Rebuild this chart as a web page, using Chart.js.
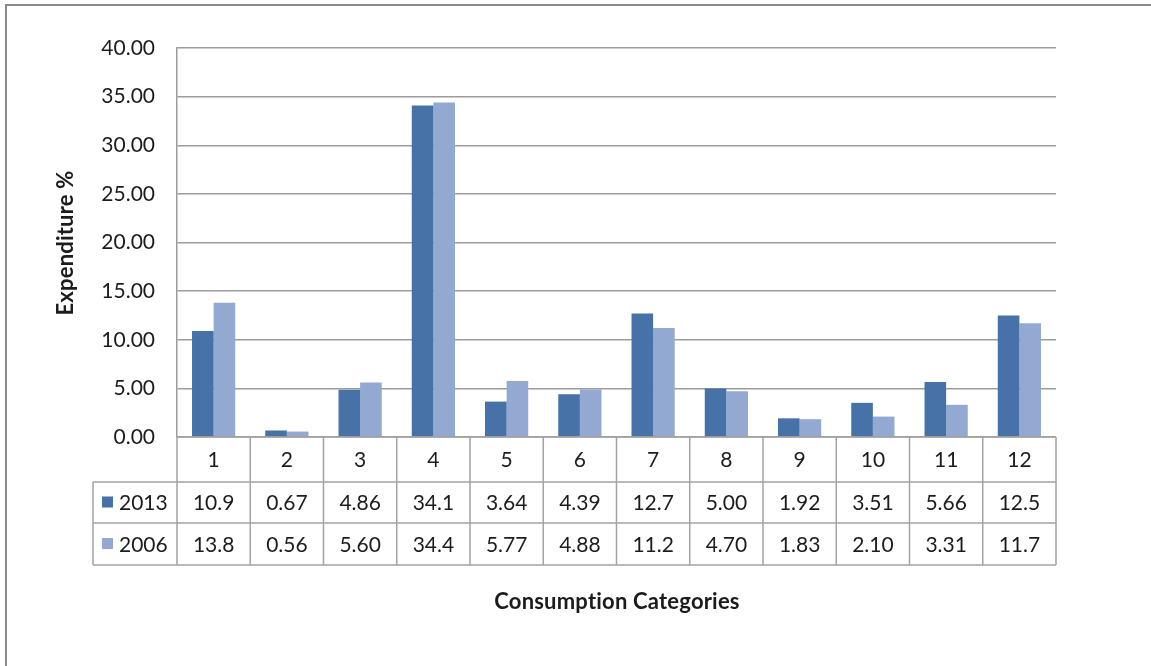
<!DOCTYPE html>
<html>
<head>
<meta charset="utf-8">
<script src="https://cdn.jsdelivr.net/npm/chart.js@4/dist/chart.umd.min.js"></script>
<style>
  html, body { margin: 0; padding: 0; background: #ffffff; }
  #wrap { width: 1151px; height: 666px; }
</style>
</head>
<body>
<div id="wrap"><canvas id="c" width="1151" height="666"></canvas></div>
<script>
// Consumption categories 1..12 and expenditure shares (%) for two survey years
const categories = ['1', '2', '3', '4', '5', '6', '7', '8', '9', '10', '11', '12'];
const series2013 = [10.9, 0.67, 4.86, 34.1, 3.64, 4.39, 12.7, 5.00, 1.92, 3.51, 5.66, 12.5];
const series2006 = [13.8, 0.56, 5.60, 34.4, 5.77, 4.88, 11.2, 4.70, 1.83, 2.10, 3.31, 11.7];
const seriesNames = ['2013', '2006'];
const yTicks = [0, 5, 10, 15, 20, 25, 30, 35, 40];

const COLOR_2013 = '#4672a8';
const COLOR_2006 = '#93a9d1';
const GRID = '#9c9c9c';
const TEXT = '#1c1c1c';
const FONT = 'Lato, "Open Sans", sans-serif';

function fmt(v) {
  return v >= 10 ? v.toFixed(1) : v.toFixed(2);
}

// Frame, data table under the plot, and both axis titles
const dataTablePlugin = {
  id: 'dataTable',
  afterDraw(chart) {
    const ctx = chart.ctx;
    const area = chart.chartArea;
    const xs = chart.scales.x;
    const n = categories.length;

    // column edges taken from the category scale
    const edges = [area.left];
    for (let i = 1; i < n; i++) {
      edges.push((xs.getPixelForValue(i - 1) + xs.getPixelForValue(i)) / 2);
    }
    edges.push(area.right);

    const rowTop = area.bottom;
    const rows = [rowTop, rowTop + 45, rowTop + 86, rowTop + 128];
    const legendLeft = 93;

    ctx.save();
    // outer chart frame (top and left edges visible)
    ctx.strokeStyle = '#8a8a8a';
    ctx.lineWidth = 2;
    ctx.beginPath();
    ctx.moveTo(6, 666);
    ctx.lineTo(6, 5);
    ctx.lineTo(1151, 5);
    ctx.stroke();

    ctx.strokeStyle = '#a3a3a3';
    ctx.lineWidth = 1.5;
    ctx.beginPath();
    // horizontal rules
    ctx.moveTo(edges[0], rows[0]); ctx.lineTo(edges[n], rows[0]);
    for (let r = 1; r < rows.length; r++) {
      ctx.moveTo(legendLeft, rows[r]); ctx.lineTo(edges[n], rows[r]);
    }
    // vertical rules
    for (let i = 0; i <= n; i++) {
      ctx.moveTo(edges[i], rows[0]); ctx.lineTo(edges[i], rows[3]);
    }
    ctx.moveTo(legendLeft, rows[1]); ctx.lineTo(legendLeft, rows[3]);
    ctx.stroke();

    ctx.fillStyle = TEXT;
    ctx.font = '21px ' + FONT;
    ctx.textAlign = 'center';
    ctx.textBaseline = 'middle';
    const data = [series2013, series2006];
    for (let i = 0; i < n; i++) {
      const cx = (edges[i] + edges[i + 1]) / 2;
      ctx.fillText(categories[i], cx, (rows[0] + rows[1]) / 2 + 1);
      for (let s = 0; s < 2; s++) {
        ctx.fillText(fmt(data[s][i]), cx, (rows[s + 1] + rows[s + 2]) / 2 + 1);
      }
    }

    // legend keys in the table's first column
    const keyColors = [COLOR_2013, COLOR_2006];
    ctx.textAlign = 'left';
    for (let s = 0; s < 2; s++) {
      const cy = (rows[s + 1] + rows[s + 2]) / 2;
      ctx.fillStyle = keyColors[s];
      ctx.fillRect(102, cy - 6, 11, 11);
      ctx.fillStyle = TEXT;
      ctx.fillText(seriesNames[s], 119, cy + 1);
    }

    // axis titles
    ctx.font = 'bold 22px ' + FONT;
    ctx.letterSpacing = '0.2px';
    ctx.textAlign = 'center';
    ctx.fillText('Consumption Categories', 617, 602);

    ctx.translate(66, 243);
    ctx.rotate(-Math.PI / 2);
    ctx.fillText('Expenditure %', 0, 0);
    ctx.restore();
  }
};

new Chart(document.getElementById('c'), {
  type: 'bar',
  data: {
    labels: categories,
    datasets: [
      { label: seriesNames[0], data: series2013, backgroundColor: COLOR_2013, borderWidth: 0 },
      { label: seriesNames[1], data: series2006, backgroundColor: COLOR_2006, borderWidth: 0 }
    ]
  },
  options: {
    responsive: false,
    animation: false,
    devicePixelRatio: 1,
    layout: { padding: { left: 0, right: 95, top: 48, bottom: 229 } },
    plugins: {
      legend: { display: false },
      tooltip: { enabled: false },
      title: { display: false }
    },
    datasets: {
      bar: { categoryPercentage: 0.59, barPercentage: 1.0 }
    },
    scales: {
      x: {
        display: false
      },
      y: {
        min: 0,
        max: 40,
        afterBuildTicks(scale) {
          scale.ticks = yTicks.map(v => ({ value: v }));
        },
        afterFit(scale) { scale.width = 177; },
        grid: { color: GRID, lineWidth: 1.5, drawTicks: false },
        border: { display: true, color: GRID, width: 1.5 },
        ticks: {
          padding: 22,
          color: TEXT,
          font: { family: FONT, size: 21 },
          callback: v => Number(v).toFixed(2)
        }
      }
    }
  },
  plugins: [dataTablePlugin]
});
</script>
</body>
</html>
